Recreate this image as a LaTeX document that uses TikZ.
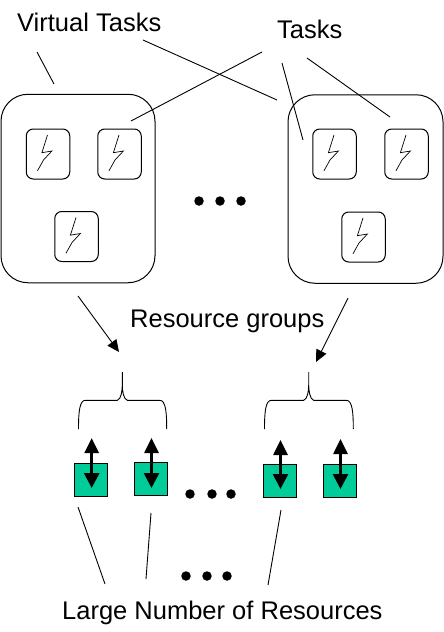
\documentclass[tikz,border=0pt]{standalone}
\usepackage{fontspec}
\setmainfont{Liberation Sans}
\usetikzlibrary{arrows.meta,calc}
\definecolor{resgreen}{RGB}{0,204,153}
\tikzset{
  groupbox/.style={draw=black,line width=1pt,rounded corners=27pt,minimum width=#1,minimum height=188.5pt,inner sep=0pt},
  taskbox/.style={draw=black,line width=1pt,rounded corners=7pt,minimum width=43.5pt,minimum height=50pt,inner sep=0pt},
  resbox/.style={draw=black,line width=1pt,fill=resgreen,minimum width=33.5pt,minimum height=33.5pt,inner sep=0pt},
  label/.style={inner sep=0pt,font=\fontsize{25.5}{25.5}\selectfont},
  leader/.style={draw=black,line width=0.9pt},
  flow/.style={draw=black,line width=0.9pt,-{Triangle[length=12pt,width=11pt]}},
  duplex/.style={draw=black,line width=2.6pt,{Triangle[length=15pt,width=14pt]}-{Triangle[length=15pt,width=15pt]}},
  brace/.style={draw=black,line width=0.9pt},
  bolt/.style={draw=black,line width=0.7pt},
  dotmark/.style={circle,fill=black,minimum size=9.5pt,inner sep=0pt}
}
\newcommand{\tasknode}[3]{%
  \node[taskbox] (#1) at (#2,#3) {};
  \draw[bolt] ($(#1.center)+(-0.5,-19)$) -- ($(#1.center)+(-6.1,-1.3)$) -- ($(#1.center)+(3.9,-3)$) -- ($(#1.center)+(-4.5,6)$) -- ($(#1.center)+(-10.5,16.7)$);
}
\newcommand{\bracket}[5]{% name prefix, x left, x mid, x right, end bend
  \coordinate (#1l) at (#2,429);
  \coordinate (#1r) at (#4,429);
  \coordinate (#1t) at (#3,372);
  \draw[brace] (#1l) .. controls (#2,412) and ($(#2,400.3)+(1,0)$) .. ($(#2,400.3)+(7,0)$)
    -- ($(#3,400.3)+(-5,0)$) .. controls ($(#3,400.3)+(-1,-1)$) and ($(#3,390)+(0,0)$) .. ($(#3,385)$)
    -- (#1t) -- ($(#3,385)$) .. controls ($(#3,390)$) and ($(#3,400.3)+(1,-1)$) .. ($(#3,400.3)+(5,0)$)
    -- ($(#4,400.3)+(-7,0)$) .. controls ($(#4,400.3)+(-1,0)$) and (#4,412) .. (#1r);
}
\begin{document}
\begin{tikzpicture}[x=1pt,y=-1pt]
\useasboundingbox (0,0) rectangle (444,632);
% groups
\node[groupbox=154pt] (gl) at (78,188.5) {};
\node[groupbox=155pt] (gr) at (365.5,189) {};
% tasks
\tasknode{t1}{48}{154}
\tasknode{t2}{119.5}{154}
\tasknode{t3}{76.5}{236.5}
\tasknode{t4}{334.5}{154}
\tasknode{t5}{406.5}{154}
\tasknode{t6}{363.5}{237}
% labels
\node[label,anchor=west] (vt) at (17,22) {Virtual Tasks};
\node[label,anchor=west] (tk) at (277,29) {Tasks};
\node[label,anchor=west] (rg) at (130,321) {Resource groups};
\node[label,anchor=west] (ln) at (62,613) {Large Number of Resources};
% leaders
\coordinate (a1) at (37,52); \coordinate (a2) at (54,84);
\coordinate (b1) at (143,40); \coordinate (b2) at (277,100);
\coordinate (c1) at (262,52); \coordinate (c2) at (131,121);
\coordinate (d1) at (282,63); \coordinate (d2) at (303,140);
\coordinate (e1) at (307,58); \coordinate (e2) at (390,117);
\draw[leader] (a1) -- (a2);
\draw[leader] (b1) -- (b2);
\draw[leader] (c1) -- (c2);
\draw[leader] (d1) -- (d2);
\draw[leader] (e1) -- (e2);
% brackets
\bracket{bl}{78.5}{122.3}{166.7}{}
\bracket{br}{264.5}{308.7}{353.3}{}
% flows
\coordinate (f1) at (78,296); \coordinate (f2) at (119,352);
\coordinate (g1) at (348,298); \coordinate (g2) at (316,362);
\draw[flow] (f1) -- (f2);
\draw[flow] (g1) -- (g2);
% resources
\node[resbox] (r1) at (91,479.8) {};
\node[resbox] (r2) at (151,478.8) {};
\node[resbox] (r3) at (280,480.8) {};
\node[resbox] (r4) at (340,480.8) {};
\coordinate (p1) at (91.7,438); \coordinate (q1) at (91.7,488);
\coordinate (p2) at (151.5,438); \coordinate (q2) at (151.5,488);
\coordinate (p3) at (280.5,440); \coordinate (q3) at (280.5,489);
\coordinate (p4) at (340.5,439); \coordinate (q4) at (340.5,489);
\draw[duplex] (p1) -- (q1);
\draw[duplex] (p2) -- (q2);
\draw[duplex] (p3) -- (q3);
\draw[duplex] (p4) -- (q4);
% bottom leaders
\coordinate (h1) at (78,507); \coordinate (h2) at (105,584);
\coordinate (i1) at (151,513); \coordinate (i2) at (146,579);
\coordinate (j1) at (281,510); \coordinate (j2) at (268,585);
\draw[leader] (h1) -- (h2);
\draw[leader] (i1) -- (i2);
\draw[leader] (j1) -- (j2);
% ellipses
\foreach \n/\x/\y in {u1/199/201,u2/220/201,u3/241/201,v1/190/494,v2/212/494,v3/231/494,w1/186/576,w2/207/576,w3/227/576}
  \node[dotmark] (\n) at (\x,\y) {};
\end{tikzpicture}
\end{document}
